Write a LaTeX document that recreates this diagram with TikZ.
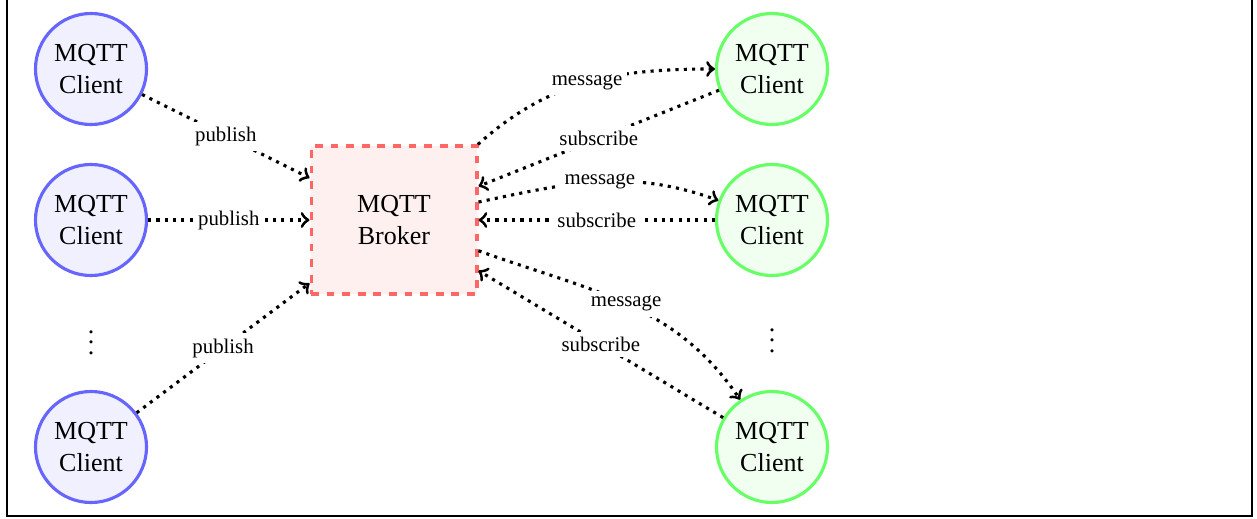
\documentclass[tikz,border=0pt]{standalone}
\usepackage{fontspec}
\setmainfont{Liberation Serif}
\begin{document}
\begin{tikzpicture}[x=0.3846pt,y=0.3846pt,
  client/.style={circle, very thick, minimum size=42.7pt, inner sep=0pt, align=center, font=\normalsize},
  pub/.style={client, draw=blue!60, fill=blue!6},
  sub/.style={client, draw=green!60, fill=green!6},
  brokerbox/.style={rectangle, draw=red!60, fill=red!6, very thick, dashed, minimum width=63.8pt, minimum height=56.9pt, inner sep=0pt, align=center, font=\normalsize},
  conn/.style={->, very thick, dotted},
  lbl/.style={fill=white, font=\footnotesize, inner sep=2pt}]
\useasboundingbox (0,0) rectangle (1257,518);
\draw[line width=0.6pt] (7,2) rectangle (1252,530);

\node[pub] (l1) at (91,449) {MQTT\\Client};
\node[pub] (l2) at (91,298) {MQTT\\Client};
\node[pub] (l3) at (91,71) {MQTT\\Client};
\node (ld) at (91,183) {$\vdots$};

\node[brokerbox] (b) at (394,298) {MQTT\\Broker};

\node[sub] (r1) at (772,449) {MQTT\\Client};
\node[sub] (r2) at (772,298) {MQTT\\Client};
\node[sub] (r3) at (772,71) {MQTT\\Client};
\node (rd) at (772,185) {$\vdots$};

\draw[conn] (l1) -- node[lbl] {publish} (b);
\draw[conn] (l2) -- node[lbl] {publish} (b);
\draw[conn] (l3) -- node[lbl] {publish} (b);

\draw[conn] (b) to[out=42,in=180] node[lbl] {message} (r1);
\draw[conn] (r1) -- node[lbl] {subscribe} (b);
\draw[conn] (b) to[out=12,in=160] node[lbl] {message} (r2);
\draw[conn] (r2) -- node[lbl] {subscribe} (b);
\draw[conn] (b) to[out=-20,in=124] node[lbl] {message} (r3);
\draw[conn] (r3) -- node[lbl] {subscribe} (b);
\end{tikzpicture}
\end{document}
